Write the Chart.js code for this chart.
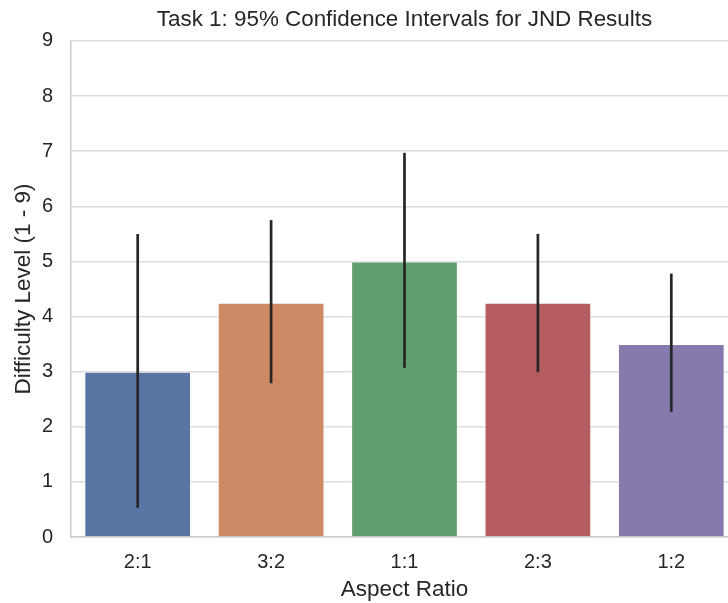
<!DOCTYPE html>
<html>
<head>
<meta charset="utf-8">
<script src="https://cdn.jsdelivr.net/npm/chart.js@4/dist/chart.umd.min.js"></script>
<style>
  html, body { margin: 0; padding: 0; background: #fff; overflow: hidden; }
  #wrap { width: 740px; height: 603px; }
</style>
</head>
<body>
<div id="wrap"><canvas id="chart"></canvas></div>
<script>
const ratios = ["2:1", "3:2", "1:1", "2:3", "1:2"];
const means = [3.0, 4.25, 5.0, 4.25, 3.5];
const ciLow = [0.53, 2.79, 3.07, 2.99, 2.27];
const ciHigh = [5.5, 5.75, 6.97, 5.5, 4.78];
const barColors = ["#5975a4", "#cc8963", "#5f9e6e", "#b55d60", "#857aab"];
const yTicks = [0, 1, 2, 3, 4, 5, 6, 7, 8, 9];

const FONT = "'Liberation Sans', Arial, sans-serif";

/* draw the confidence interval lines through the scales */
const errorBars = {
  id: "errorBars",
  afterDatasetsDraw(chart) {
    const ctx = chart.ctx;
    const x = chart.scales.x;
    const y = chart.scales.y;
    ctx.save();
    ctx.strokeStyle = "#262626";
    ctx.lineWidth = 2.7;
    ctx.lineCap = "butt";
    ratios.forEach((r, i) => {
      const px = x.getPixelForValue(i);
      ctx.beginPath();
      ctx.moveTo(px, y.getPixelForValue(ciLow[i]));
      ctx.lineTo(px, y.getPixelForValue(ciHigh[i]));
      ctx.stroke();
    });
    ctx.restore();
  },
};

new Chart(document.getElementById("chart"), {
  type: "bar",
  data: {
    labels: ratios,
    datasets: [
      {
        data: means,
        backgroundColor: barColors,
        borderColor: "rgba(255,255,255,0.6)",
        borderWidth: 1,
        categoryPercentage: 0.8,
        barPercentage: 1.0,
      },
    ],
  },
  options: {
    responsive: true,
    maintainAspectRatio: false,
    animation: false,
    layout: { padding: { left: 0, right: 2, top: 0, bottom: 0 } },
    plugins: {
      legend: { display: false },
      tooltip: { enabled: false },
      title: {
        display: true,
        fullSize: false,
        text: "Task 1: 95% Confidence Intervals for JND Results",
        color: "#262626",
        font: { family: FONT, size: 22.4, weight: "normal" },
        padding: { top: 6, bottom: 8.1 },
      },
    },
    scales: {
      x: {
        grid: { display: false, drawTicks: false },
        border: { display: true, color: "#cccccc", width: 1.5 },
        ticks: { color: "#262626", font: { family: FONT, size: 20 }, padding: 13 },
        title: {
          display: true,
          text: "Aspect Ratio",
          color: "#262626",
          font: { family: FONT, size: 22.5 },
          padding: { top: 4, bottom: 0 },
        },
        afterFit(s) { s.height = 66; },
      },
      y: {
        min: 0,
        max: 9,
        afterBuildTicks(s) { s.ticks = yTicks.map((v) => ({ value: v })); },
        grid: { color: "#dddddd", lineWidth: 1.5, drawTicks: false },
        border: { display: true, color: "#cccccc", width: 1.5 },
        ticks: { color: "#262626", font: { family: FONT, size: 20 }, padding: 18 },
        title: {
          display: true,
          text: "Difficulty Level (1 - 9)",
          color: "#262626",
          font: { family: FONT, size: 22.5 },
          padding: { top: 10, bottom: 4 },
        },
        afterFit(s) { s.width = 71; },
      },
    },
  },
  plugins: [errorBars],
});
</script>
</body>
</html>
